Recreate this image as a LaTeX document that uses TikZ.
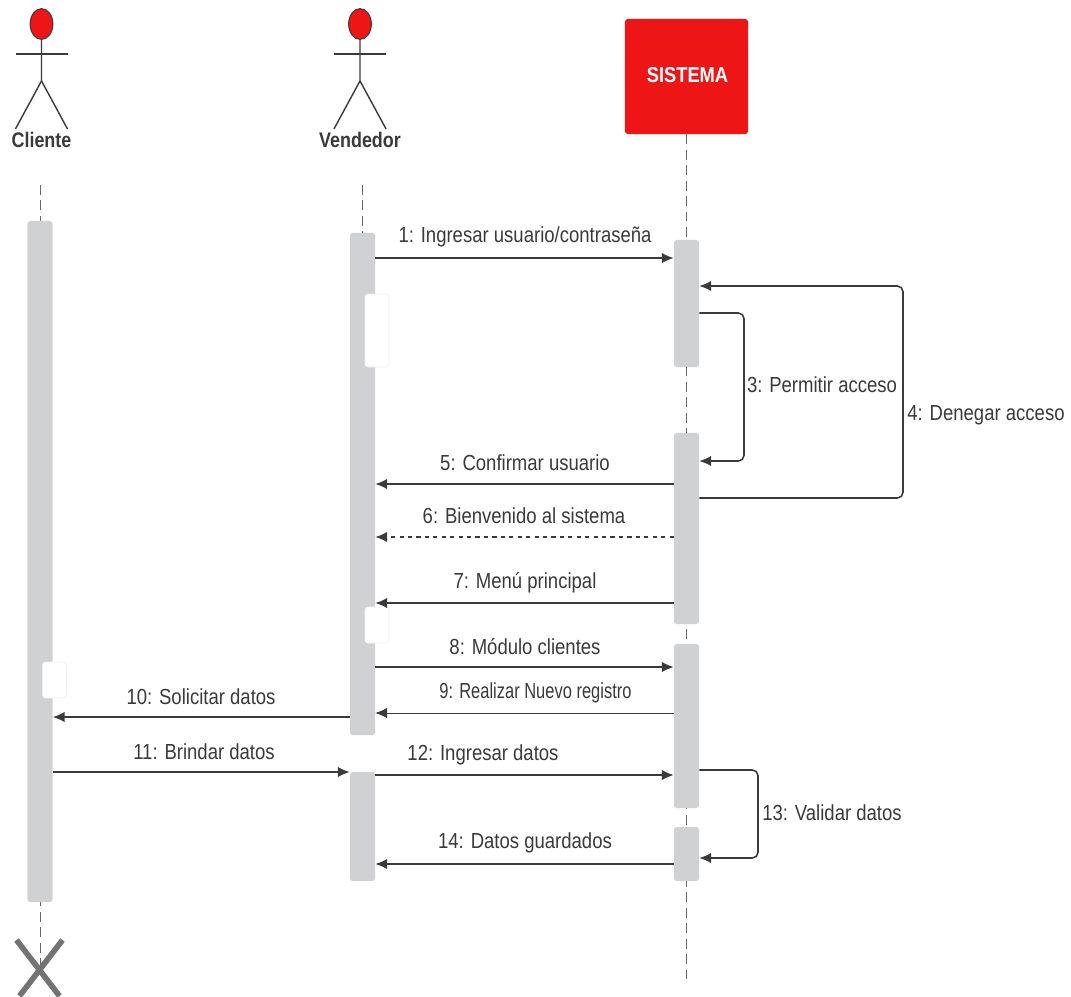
\documentclass[tikz,border=0pt]{standalone}
\usepackage{fontspec}
\usepackage{xcolor}
\usetikzlibrary{arrows.meta, calc, positioning, shapes.geometric}
\setmainfont[FakeStretch=0.85]{Liberation Sans}
\definecolor{rojo}{HTML}{ED1515}
\definecolor{barra}{HTML}{D0D1D3}
\definecolor{linea}{HTML}{3A3A3A}
\tikzset{
  barra/.style={fill=barra, rounded corners=2pt, minimum width=0.625cm, inner sep=0pt},
  hueco/.style={draw=black!6, fill=white, rounded corners=2pt, minimum width=0.6cm, inner sep=0pt},
  vida/.style={gray!80!black, dash pattern=on 7pt off 4pt, line width=0.5pt},
  msg/.style={-{Latex[length=8.5pt,width=7.5pt]}, linea, line width=1.1pt},
  etiqueta/.style={linea, font=\fontsize{15.5}{18}\selectfont, inner sep=0pt},
  actor/.style={linea, line width=1pt},
  titulo/.style={linea, font=\fontsize{15}{18}\selectfont\bfseries, inner sep=0pt}
}

\begin{document}
\begin{tikzpicture}[x=0.025cm, y=-0.025cm, >=Latex]
    \useasboundingbox (0,0) rectangle (1071,996);
    % lineas de vida
    \coordinate (cliA) at (40,185);
    \coordinate (cliB) at (40,970);
    \coordinate (venA) at (362,185);
    \coordinate (venB) at (362,233);
    \coordinate (sisFin) at (686.5,985);
    \draw[vida] (cliA) -- (cliB);
    \draw[vida] (venA) -- (venB);
    % actores
    \foreach \nom/\cx/\txt in {cli/41.5/Cliente, ven/360/Vendedor} {
      \node[draw=linea, fill=rojo, ellipse, line width=0.7pt, minimum width=0.57cm, minimum height=0.77cm, inner sep=0pt] (cab\nom) at (\cx,24) {};
      \draw[actor] (cab\nom.south) -- ++(0,41) coordinate (cad\nom) -- ++(-26,48);
      \draw[actor] (cad\nom) -- ++(26,48);
      \draw[actor, line width=1.3pt] ($(\cx,54)+(-26,0)$) -- ($(\cx,54)+(26,0)$);
      \node[titulo] (tit\nom) at (\cx,139.5) {\txt};
    }
    % sistema
    \node[fill=rojo, rounded corners=2pt, minimum width=3.075cm, minimum height=2.875cm, inner sep=0pt,
          text=white, font=\fontsize{15}{18}\selectfont\bfseries] (sistema) at (686.5,76.5) {};
    \node[text=white, font=\fontsize{15.3}{18}\selectfont\bfseries, inner sep=0pt] (txtSis) at (687.5,75) {SISTEMA};
    \draw[vida] (sistema.south) -- (sisFin);
    % barras de activacion
    \node[barra, minimum height=17.025cm] (barCli) at (40,561.5) {};
    \node[barra, minimum height=12.55cm] (barVenA) at (362.5,484) {};
    \node[barra, minimum height=2.725cm] (barVenB) at (362.5,826.5) {};
    \node[barra, minimum height=3.175cm] (barSisA) at (686.5,303.5) {};
    \node[barra, minimum height=4.775cm] (barSisB) at (686.5,528.5) {};
    \node[barra, minimum height=4.1cm] (barSisC) at (686.5,726) {};
    \node[barra, minimum height=1.35cm] (barSisD) at (686.5,854) {};
    % huecos blancos
    \node[hueco, minimum height=1.825cm] (hueA) at (377,330.5) {};
    \node[hueco, minimum height=0.9cm] (hueB) at (377,625) {};
    \node[hueco, minimum height=0.9cm] (hueC) at (54.5,680) {};
    % mensajes
    \draw[msg] (barVenA.east |- 0,258) -- (barSisA.west |- 0,258);
    \node[etiqueta] (msgA) at (525,237) {1: Ingresar usuario/contraseña};
    \draw[msg, rounded corners=4pt] (barSisA.east |- 0,313) -- (744,313) -- (744,461) -- (barSisB.east |- 0,461);
    \node[etiqueta] (msgC) at (822,385) {3: Permitir acceso};
    \draw[msg, rounded corners=4pt] (barSisB.east |- 0,498) -- (903,498) -- (903,286) -- (barSisA.east |- 0,286);
    \node[etiqueta] (msgD) at (986,415) {4: Denegar acceso};
    \draw[msg] (barSisB.west |- 0,484) -- (barVenA.east |- 0,484);
    \node[etiqueta] (msgE) at (525,463) {5: Confirmar usuario};
    \draw[msg, dashed] (barSisB.west |- 0,537) -- (barVenA.east |- 0,537);
    \node[etiqueta] (msgF) at (524,516) {6: Bienvenido al sistema};
    \draw[msg] (barSisB.west |- 0,603) -- (barVenA.east |- 0,603);
    \node[etiqueta] (msgG) at (525,583) {7: Menú principal};
    \draw[msg] (barVenA.east |- 0,667) -- (barSisC.west |- 0,667);
    \node[etiqueta] (msgH) at (525,647) {8: Módulo clientes};
    \draw[msg, line width=0.6pt] (barSisC.west |- 0,713) -- (barVenA.east |- 0,713);
    \node[etiqueta, transform shape, xscale=0.89] (msgI) at (535.5,693) {9: Realizar Nuevo registro};
    \draw[msg] (barVenA.west |- 0,717) -- (barCli.east |- 0,717);
    \node[etiqueta] (msgJ) at (201,697) {10: Solicitar datos};
    \draw[msg] (barCli.east |- 0,772) -- (barVenB.west |- 0,772);
    \node[etiqueta] (msgK) at (204,752) {11: Brindar datos};
    \draw[msg] (barVenB.east |- 0,775) -- (barSisC.west |- 0,775);
    \node[etiqueta] (msgL) at (483,755) {12: Ingresar datos};
    \draw[msg, rounded corners=4pt] (barSisC.east |- 0,770) -- (758,770) -- (758,858) -- (barSisD.east |- 0,858);
    \node[etiqueta] (msgM) at (832,813) {13: Validar datos};
    \draw[msg] (barSisD.west |- 0,864) -- (barVenB.east |- 0,864);
    \node[etiqueta] (msgN) at (525,843) {14: Datos guardados};
    % fin del cliente
    \draw[gray!90!black, line width=4pt] (16.5,940) -- (59.5,996);
    \draw[gray!90!black, line width=4pt] (62.5,940) -- (19.5,996);
\end{tikzpicture}
\end{document}
